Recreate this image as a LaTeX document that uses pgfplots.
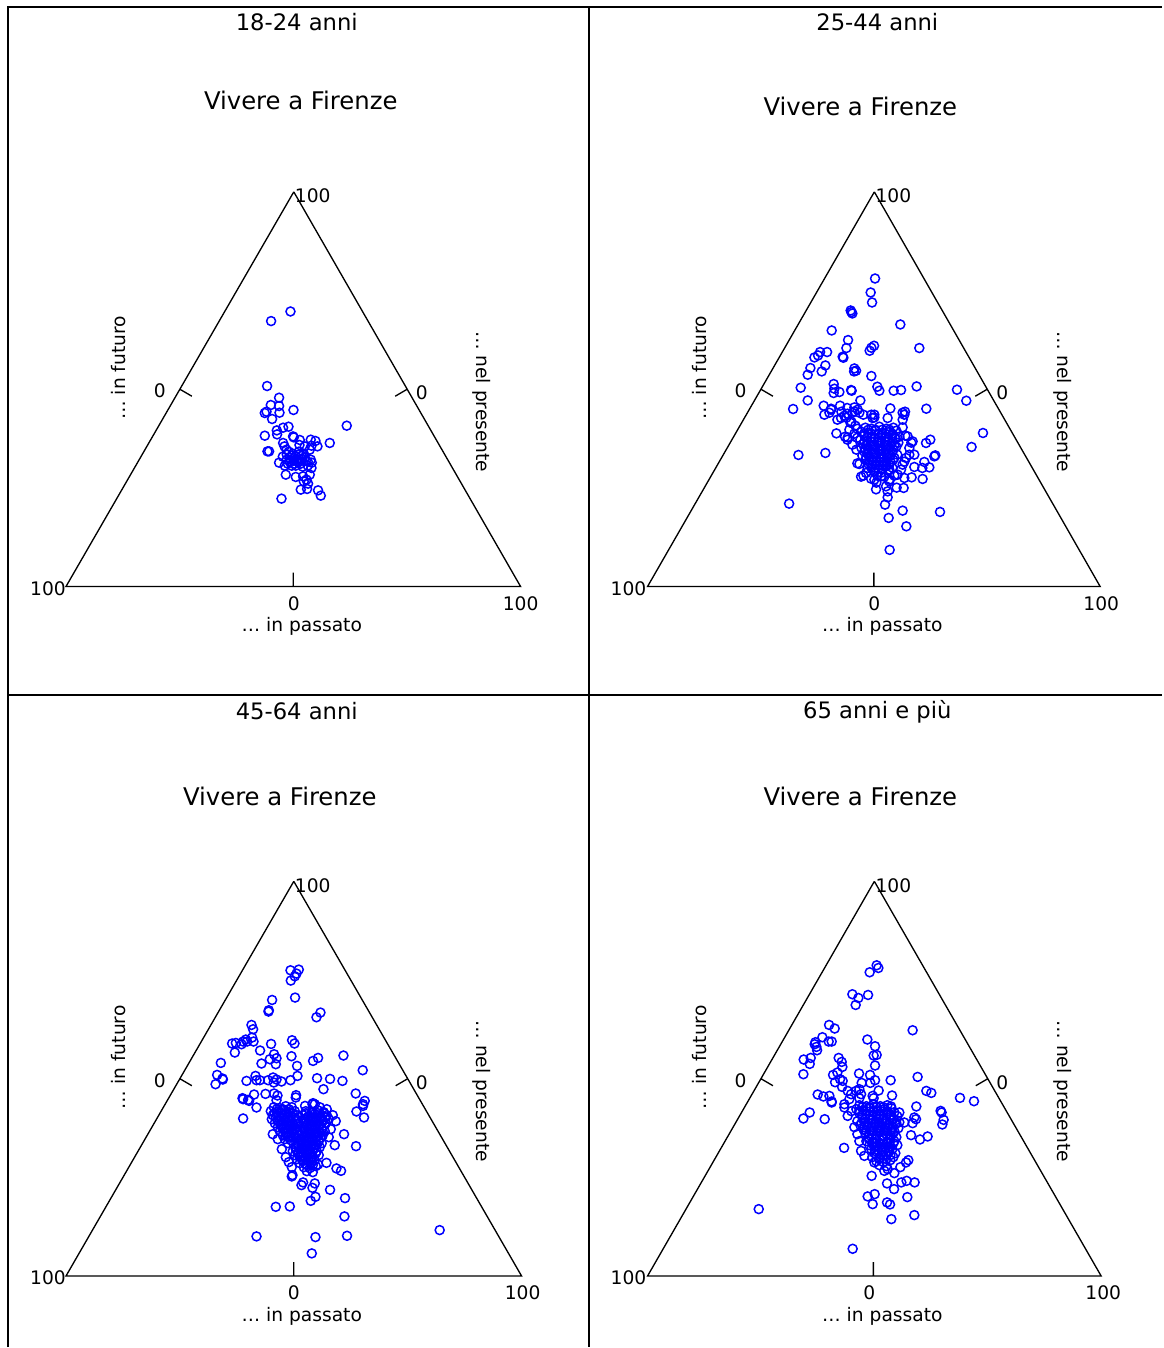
\documentclass[border=0pt]{standalone}
\usepackage{fontspec}
\setmainfont{DejaVu Sans}
\usepackage{pgfplots}
\pgfplotsset{compat=1.18}

\newcommand{\agefont}{\fontsize{6.8pt}{8pt}\selectfont}
\newcommand{\headfont}{\fontsize{7.3pt}{8.6pt}\selectfont}
\newcommand{\lblfont}{\fontsize{5.6pt}{6.6pt}\selectfont}

% texts of one ternary panel
\newcommand{\panellabels}[9]{%
  % #1 apex x, #2 apex y, #3 base y, #4 age title, #5/#6 position of "Vivere a Firenze"
  % #7 left base label x, #8 right base label x, #9 bottom 0 x
  \node[font=\agefont] at (axis cs:#1+3,#2-170) {#4};
  \node[font=\headfont] at (axis cs:#5,#6) {Vivere a Firenze};
  \node[font=\lblfont] at (axis cs:#1+19,#2+4) {100};
  \node[font=\lblfont] at (axis cs:#7,#3+2) {100};
  \node[font=\lblfont] at (axis cs:#9,#3+17) {0};
  \node[font=\lblfont] at (axis cs:#8,#3+17) {100};
  \node[font=\lblfont] at (axis cs:#1-134,#2+199) {0};
  \node[font=\lblfont] at (axis cs:#1+128,#2+201) {0};
  \node[font=\lblfont] at (axis cs:#1+8,#3+40) {… in passato};
  \node[font=\lblfont,rotate=90] at (axis cs:#1-175,#2+176) {… in futuro};
  \node[font=\lblfont,rotate=-90] at (axis cs:#1+188,#2+210) {… nel presente};
}

\begin{document}
\begin{tikzpicture}
\begin{axis}[
  width=348.9pt, height=404.4pt, scale only axis,
  xmin=0, xmax=1163, ymin=0, ymax=1348, y dir=reverse,
  hide axis, unbounded coords=jump, clip=false,
  tri/.style={black, line width=0.4pt, no marks},
  pts/.style={only marks, mark=o, mark size=1.35pt,
    color={rgb,255:red,0;green,0;blue,255}, mark options={line width=0.45pt}},
]
\path (axis cs:0,0) rectangle (axis cs:1163,1348);

% frame of the four panels
\addplot[black, line width=0.6pt, no marks] coordinates {
  (8,1348) (8,7) (1163,7) (nan,nan)
  (589,7) (589,1348) (nan,nan)
  (8,696) (1163,696)};

% triangles with the three midpoint ticks
\addplot[tri] coordinates {(294,192) (66,587) (521,587) (294,192) (nan,nan)
  (293.5,587) (293.5,573) (nan,nan) (180,389.5) (192,396.5) (nan,nan)
  (407.5,389.5) (395.5,396.5)};
\addplot[tri] coordinates {(875,192) (648,587) (1101,587) (875,192) (nan,nan)
  (874.5,587) (874.5,573) (nan,nan) (761.5,389.5) (773.5,396.5) (nan,nan)
  (988,389.5) (976,396.5)};
\addplot[tri] coordinates {(294,882) (66,1277) (522,1277) (294,882) (nan,nan)
  (294,1277) (294,1263) (nan,nan) (180,1079.5) (192,1086.5) (nan,nan)
  (408,1079.5) (396,1086.5)};
\addplot[tri] coordinates {(875,882) (648,1277) (1102,1277) (875,882) (nan,nan)
  (874,1277) (874,1263) (nan,nan) (761.5,1079.5) (773.5,1086.5) (nan,nan)
  (988.5,1079.5) (976.5,1086.5)};

% 18-24 anni
\addplot[pts] table {
290.7 311.7
271.3 321.3
267.3 386.3
279.3 398
271 405.3
279.3 406.3
265 413.3
266.7 412
279.7 413
272.3 419.3
293.7 410.3
347 426
265 436
277 430.7
277.3 434.7
283.3 428
288.7 427
293.3 436.7
294 437.7
300 440.3
299.7 445.3
305 446.7
311 440
315.7 441.3
317.7 446.7
311.7 446
310 450
330 443.3
283.3 443.3
284.7 446.7
286.7 450
267.7 451.7
269.3 451.7
279.3 463
287 455
290 458
293 454
296 457
299 455
302 459
290 462
294 461
298 462
301 464
305 458
308 462
311 460
287 460
292 466
296 466
303 467
308 466
312 463
299 452
304 454
289 452
283 457
285 466
292 456
297 460
302 456
306 461
295 464
300 462
288 464
286 475
296 477.3
303.3 476.7
310 475
311.7 468.3
304 481.7
308.3 484
301 490
307.3 489.3
318.3 490.7
321 496
281.7 499
306.7 480
};

% 25-44 anni
\addplot[pts] table {
875.7 278.7
871.3 292.7
872.7 302.7
851.3 310.7
853 313.7
852 312.3
901 324.7
832.3 330.7
848.7 340.3
874.7 346
872 348
870.3 351
920 348.3
847 348.3
827.7 352.3
820.7 352.3
818.7 355.7
815 357.7
843.3 357
844 358
826 365.7
811 368.3
808.3 375
822.3 371.7
855 368.7
856.7 371
854.7 371.7
872 376.3
834.3 384.3
835 389
834.3 393.3
840 392.3
851.7 390.3
852.3 391
878 387
880 391
894.3 391
901.7 390.3
917.3 386.7
957.7 390
967 401
801.3 388
808.3 400.7
793.7 409.3
824.3 406
831.7 409
840.7 406
861 400.7
855 407.7
858.3 410
847.7 408.3
891 408.7
927 409
842 412
848 414
853 413
860 413
864 415
872 415
875 415
903.3 413
905.7 412
825 415
831.7 410
841.7 418.3
855 411.7
875 417.7
873.3 418.3
888.3 418.3
905 415
903.3 420
830 413
838 420
845 416
851 423
858 429
837 433.7
845.7 437
848.3 437.7
903.3 427.7
983.7 433.3
972.3 447.3
799 455.3
826 453.3
931 440
926.7 443.3
936 455.7
935 456.7
925 462.3
930 467.7
923 468.3
915 467.3
912.3 477.7
923.3 479.3
858 463.7
860 464.3
861.7 477
876.7 489.7
888.3 491.7
888.3 497.7
897.3 488
904.3 488.3
885.7 505
789.7 504
903.3 511
940.7 512.3
889.3 518.3
907 526.7
890.3 550.3
847 418
852 422
856 426
850 430
855 434
858 438
848 440
853 445
857 450
906 436
912 443
910 455
905 462
890 480
877 483
864 476
895 476
908.3 436.7
913.3 441.7
910 448.3
915 455
906.7 458.3
903.3 465
901.7 470
898.3 475
905 478.3
875 471.7
881.7 476.7
890 481.7
875 480
886.7 486.7
868.3 468.3
866.7 473.3
871.7 479
866 428
872 429
880 427
887 429
894 428
862 432
869 433
876 431
883 433
890 432
897 431
865 436
872 437
879 435
886 437
893 436
900 437
861 440
868 441
875 439
882 441
889 440
896 439
864 444
871 445
878 443
885 445
892 444
899 443
862 448
869 449
876 447
883 449
890 448
897 447
865 452
872 453
879 451
886 453
893 452
863 456
870 457
877 455
884 457
891 456
898 455
866 460
873 461
880 459
887 461
894 460
869 464
876 465
883 463
890 465
872 468
879 469
886 467
893 468
875 472
882 473
889 471
878 476
885 477
869 430
876 430
883 430
890 430
865 434
872 434
879 434
886 434
893 434
868 438
875 438
882 438
889 438
896 438
865 442
872 442
879 442
886 442
893 442
867 446
874 446
881 446
888 446
895 446
866 450
873 450
880 450
887 450
894 450
868 454
875 454
882 454
889 454
867 458
874 458
881 458
888 458
895 458
870 462
877 462
884 462
891 462
873 466
880 466
887 466
876 470
883 470
890 470
};

% 45-64 anni
\addplot[pts] table {
290.7 971
299 970.3
296.7 974.3
295 977
291 981.3
295.3 998.3
272.3 1000.7
269 1011
268.7 1012.3
320.7 1013.3
316.7 1018
251.7 1025.7
253.3 1030
232.3 1044.3
236 1043.7
235 1053.3
243.3 1042.3
246 1040.3
247.3 1042.3
252.3 1038.3
253.7 1042.3
241.7 1045
271.3 1044.7
292.3 1041
294.7 1044.3
260.3 1051.3
274.3 1055
276.7 1059
270 1060
276 1065
291.7 1057
313.3 1061.7
318.3 1058.7
343.7 1056.3
221 1063.7
261.7 1064.3
297.3 1066.7
363 1071
217.3 1075.7
222.7 1079.3
223 1080.3
215.7 1085
246.7 1081.7
255.7 1076.7
256.7 1081
260 1081
268.3 1081
273.3 1078.3
274 1083.3
276.7 1080.3
281.7 1082.3
290.7 1081
297.7 1076.7
317.3 1079
330.3 1079.7
342.7 1081.7
323.7 1090
356 1094.3
365 1101.7
363.3 1105
242.7 1099
248.3 1100.7
254.3 1095.3
265.7 1094.7
274.3 1094.3
277.7 1096.3
276.7 1101
296.3 1096
296 1098.3
313.3 1104
243.3 1100
249.3 1101.7
256.7 1108.3
243.3 1119.3
356.7 1112.3
363.3 1106.7
364.3 1118.3
312.7 1105
305.3 1106.7
344.3 1135
356.3 1147
326.7 1163.7
318.3 1165.3
336.7 1169.3
341.3 1171.7
292.7 1176
292 1177.3
303.3 1183.3
301.7 1186
315 1184.3
312.7 1188.7
330.3 1190.7
315.7 1197.7
311 1201.7
345.3 1199
276 1207.7
290 1207.3
344.7 1217.3
256.7 1237.3
315.7 1238
347.3 1236.7
312 1254.3
440 1231
274 1108
280 1109
286 1107
292 1108
271 1112
277 1113
283 1111
289 1113
295 1112
273 1116
279 1117
285 1115
291 1117
297 1116
272 1120
278 1121
284 1119
290 1121
296 1120
275 1124
281 1125
287 1123
293 1125
299 1124
278 1128
284 1129
290 1127
296 1129
280 1132
286 1133
292 1131
298 1133
283 1136
289 1137
295 1135
285 1140
291 1141
297 1139
288 1144
294 1145
306 1112
312 1113
318 1111
324 1113
303 1116
309 1117
315 1115
321 1117
327 1116
305 1120
311 1121
317 1119
323 1121
329 1120
302 1124
308 1125
314 1123
320 1125
326 1124
304 1128
310 1129
316 1127
322 1129
301 1132
307 1133
313 1131
319 1133
325 1132
299 1136
305 1137
311 1135
317 1137
323 1136
301 1140
307 1141
313 1139
319 1141
298 1144
304 1145
310 1143
316 1145
322 1144
296 1148
302 1149
308 1147
314 1149
320 1148
293 1152
299 1153
305 1151
311 1153
317 1152
295 1156
301 1157
307 1155
313 1157
319 1156
297 1160
303 1161
309 1159
315 1161
300 1164
306 1165
312 1163
304 1168
310 1169
316 1167
307 1172
313 1173
315 1105
320 1108
327 1110
333 1116
336 1122
331 1130
329 1138
335 1146
273 1135
278 1140
282 1150
286 1158
289 1163
292 1168
277 1110
283 1110
289 1110
275 1114
281 1114
287 1114
293 1114
276 1118
282 1118
288 1118
294 1118
278 1122
284 1122
290 1122
296 1122
281 1126
287 1126
293 1126
283 1130
289 1130
295 1130
286 1134
292 1134
288 1138
294 1138
306 1114
312 1114
318 1114
324 1114
308 1118
314 1118
320 1118
326 1118
305 1122
311 1122
317 1122
323 1122
307 1126
313 1126
319 1126
325 1126
304 1130
310 1130
316 1130
322 1130
302 1134
308 1134
314 1134
320 1134
304 1138
310 1138
316 1138
322 1138
301 1142
307 1142
313 1142
319 1142
299 1146
305 1146
311 1146
317 1146
296 1150
302 1150
308 1150
314 1150
298 1154
304 1154
310 1154
316 1154
300 1158
306 1158
312 1158
303 1162
309 1162
307 1166
313 1166
};

% 65 anni e più
\addplot[pts] table {
877.3 966
879 968.7
870.3 973
853 995
859 998.7
856.3 1005.7
868.7 995.7
829.7 1025.7
835.3 1029.3
913.3 1031
823 1038
816 1043
815.3 1045
817 1047.7
817.7 1051
829.3 1042.3
832.3 1042.3
868 1040.3
875.7 1047
874.3 1056.3
877.3 1055.7
875.7 1066.3
804.3 1060.3
811.3 1058.7
810.3 1064.7
804 1075
839.3 1058.7
842.3 1062.7
843 1067.7
833.7 1075.7
838 1073.3
835.7 1083
840.7 1080
843.3 1081.7
842.7 1087.7
859.7 1074.3
870.7 1075.7
862.3 1083.7
871 1083.7
875.7 1081
891.3 1081
918.3 1077.7
879.3 1091.3
927 1091.7
932 1093.7
960.7 1098.7
974.7 1102
818.3 1095.3
824 1097.3
830 1096.7
832.3 1102.3
892.7 1096.3
848.3 1091.7
851.7 1095
856.7 1091.7
860 1090
861.7 1095
860 1099
873.3 1096.7
874.3 1099
832.3 1103.3
810.3 1113.3
804 1119.3
825.3 1120
845 1108.3
848.3 1116.7
917 1107.3
900 1113.3
891.7 1107.3
941.3 1111.7
942.3 1113.3
944.3 1120.7
943 1125.3
915 1118.3
916.7 1120
913.3 1124
905 1123.3
928.3 1137.3
920.7 1140.3
911.7 1136
844.7 1148.7
861.7 1151.7
865 1156.7
875 1163.3
885 1171.7
888.3 1170
895 1174
901 1168
906.7 1163.3
909 1161
872.3 1176.7
887.7 1184.3
894.7 1190
902 1183.3
907.3 1181.7
915.3 1183.3
868.3 1197.3
875.3 1195
873.3 1205
887.7 1203.3
890.7 1205.3
908 1198
915 1216
892 1220
759.3 1210
853.3 1249.7
860 1106
867 1107
874 1105
881 1107
888 1106
857 1110
864 1111
871 1109
878 1111
885 1110
892 1109
860 1114
867 1115
874 1113
881 1115
888 1114
895 1113
863 1118
870 1119
877 1117
884 1119
891 1118
898 1117
858 1122
865 1123
872 1121
879 1123
886 1122
893 1121
900 1123
861 1126
868 1127
875 1125
882 1127
889 1126
896 1125
864 1130
871 1131
878 1129
885 1131
892 1130
899 1129
866 1134
873 1135
880 1133
887 1135
894 1134
869 1138
876 1139
883 1137
890 1139
897 1138
867 1142
874 1143
881 1141
888 1143
895 1142
870 1146
877 1147
884 1145
891 1147
898 1146
872 1150
879 1151
886 1149
893 1150
875 1154
882 1155
889 1153
896 1154
873 1158
880 1159
887 1157
894 1158
877 1162
884 1163
891 1161
880 1166
887 1167
855 1128
858 1135
860 1142
850 1100
845 1105
852 1112
863 1108
870 1108
877 1108
884 1108
860 1112
867 1112
874 1112
881 1112
888 1112
863 1116
870 1116
877 1116
884 1116
891 1116
866 1120
873 1120
880 1120
887 1120
894 1120
862 1124
869 1124
876 1124
883 1124
890 1124
897 1124
865 1128
872 1128
879 1128
886 1128
893 1128
867 1132
874 1132
881 1132
888 1132
895 1132
870 1136
877 1136
884 1136
891 1136
870 1140
877 1140
884 1140
891 1140
873 1144
880 1144
887 1144
894 1144
875 1148
882 1148
889 1148
876 1152
883 1152
890 1152
877 1156
884 1156
891 1156
880 1160
887 1160
};

% panel texts
\panellabels{294}{192}{587}{18-24 anni}{301}{101}{48}{521}{294}
\panellabels{875}{192}{587}{25-44 anni}{861}{107}{629}{1102}{875}
\panellabels{294}{882}{1277}{45-64 anni}{280}{797}{48}{523}{294}
\panellabels{875}{882}{1277}{65 anni e più}{861}{797}{629}{1104}{870}
\end{axis}
\end{tikzpicture}
\end{document}
